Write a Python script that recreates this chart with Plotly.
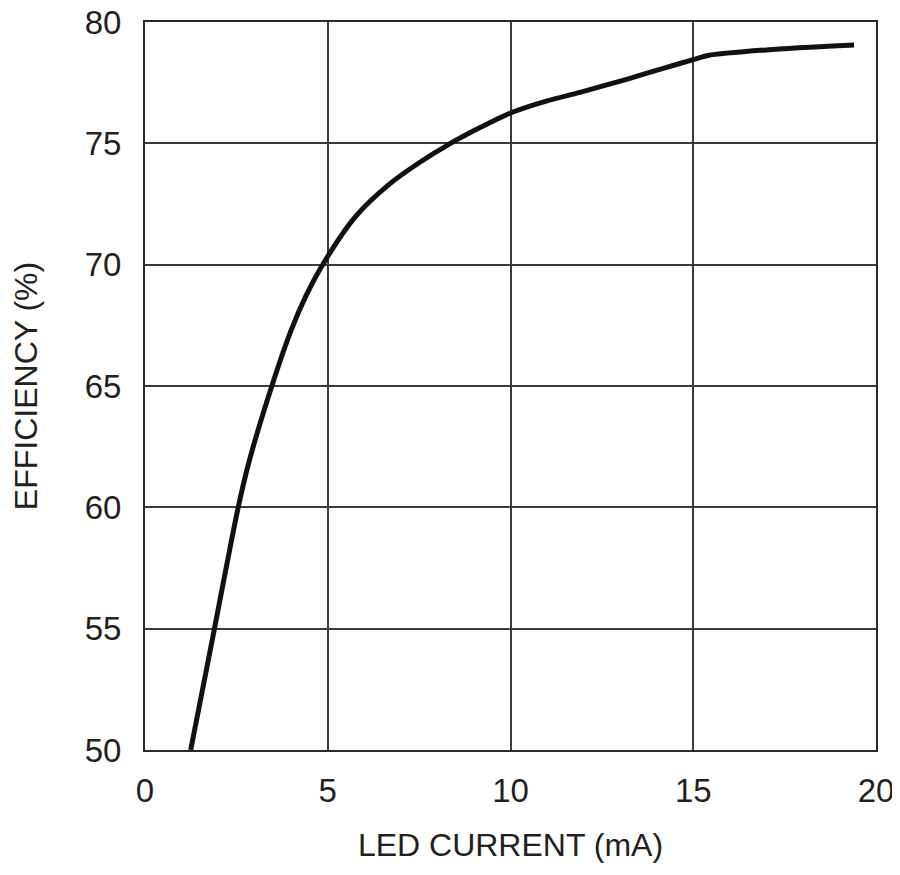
import plotly.graph_objects as go

led_current_ma = [1.25, 1.9, 2.55, 2.85, 3.47, 4.0, 4.4, 4.9, 5.77, 6.67, 7.5, 8.3, 9.1,
                  10.0, 11.0, 11.9, 13.2, 14.2, 15.0, 15.4, 17.0, 19.4]
efficiency_pct = [50.0, 55.0, 60.0, 61.9, 65.0, 67.3, 68.7, 70.1, 72.0, 73.3, 74.2, 74.95, 75.6,
                  76.25, 76.75, 77.1, 77.65, 78.1, 78.45, 78.62, 78.85, 79.05]

x_ticks = [0, 5, 10, 15, 20]
y_ticks = [50, 55, 60, 65, 70, 75, 80]

FONT = "Liberation Sans, Arial, sans-serif"
TXT = "#231f20"
GRID = "#3a3a3a"

fig = go.Figure()
fig.add_trace(go.Scatter(
    x=led_current_ma, y=efficiency_pct, mode="lines",
    line=dict(color="#111111", width=5, shape="spline", smoothing=0.8),
    hoverinfo="skip", showlegend=False,
))

fig.update_layout(
    width=892, height=867,
    margin=dict(l=137, r=24, t=14, b=125),
    paper_bgcolor="white", plot_bgcolor="white",
    font=dict(family=FONT, color=TXT, size=33),
    showlegend=False,
)
fig.update_xaxes(
    range=[0, 20], tickvals=x_ticks, ticktext=[str(v) for v in x_ticks],
    showgrid=True, gridcolor=GRID, gridwidth=2,
    showline=True, linecolor="#2a2a2a", linewidth=2, mirror=True,
    ticks="", ticklabelstandoff=10, zeroline=False, automargin=False,
    ticklabeloverflow="allow",
    tickfont=dict(size=33, family=FONT, color=TXT),
    title=dict(text="LED CURRENT (mA)", font=dict(size=32, family=FONT, color=TXT), standoff=26),
)
fig.update_yaxes(
    range=[50, 80], tickvals=y_ticks, ticktext=[str(v) for v in y_ticks],
    showgrid=True, gridcolor=GRID, gridwidth=2,
    showline=True, linecolor="#2a2a2a", linewidth=2, mirror=True,
    ticks="", ticklabelstandoff=15, zeroline=False, automargin=False,
    ticklabeloverflow="allow",
    tickfont=dict(size=33, family=FONT, color=TXT),
    title=dict(text="EFFICIENCY (%)", font=dict(size=32, family=FONT, color=TXT), standoff=43),
)

fig.write_html("out.html")
